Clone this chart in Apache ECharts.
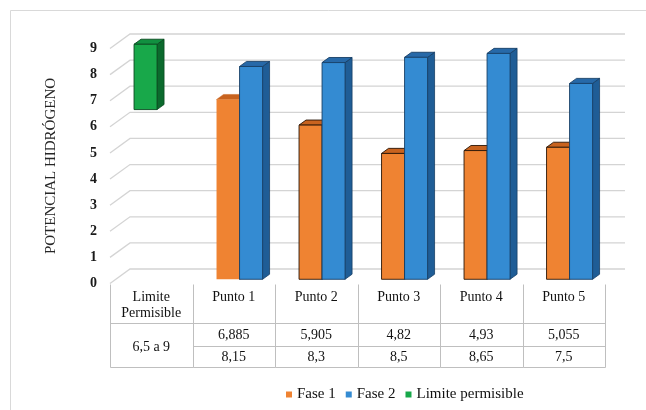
<!DOCTYPE html>
<html>
<head>
<meta charset="utf-8">
<script src="https://cdn.jsdelivr.net/npm/echarts@6/dist/echarts.min.js"></script>
<style>
  html, body { margin: 0; padding: 0; background: #ffffff; }
  #chart { width: 646px; height: 410px; }
</style>
</head>
<body>
<div id="chart"></div>
<script>
// pH por punto de muestreo
const categories = ['Limite\nPermisible', 'Punto 1', 'Punto 2', 'Punto 3', 'Punto 4', 'Punto 5'];
const fase1 = [null, 6.885, 5.905, 4.82, 4.93, 5.055];
const fase2 = [null, 8.15, 8.3, 8.5, 8.65, 7.5];
const limiteMin = 6.5;
const limiteMax = 9;
const yTicks = [0, 1, 2, 3, 4, 5, 6, 7, 8, 9];
const seriesNames = ['Fase 1', 'Fase 2', 'Limite permisible'];
const axisTitle = 'POTENCIAL HIDRÓGENO';

// oblique projection of the 3D box
const DEPTH = [20, -14.5];   // from the front edge of the floor to the back wall
const BAR_PLANE = 0.29;      // depth of the column front faces (fraction of DEPTH)
const BAR_DEPTH = 0.35;      // thickness of a column (fraction of DEPTH)
const BAR_FRAC = 0.279;      // column width relative to the category band
const FONT = 'Liberation Serif';

const fmt = v => String(v).replace('.', ',');

const palette = {
  fase1: { front: '#EF8332', top: '#C8631F', side: '#B4561A', stroke: '#2a1608' },
  fase2: { front: '#348BD2', top: '#2769A8', side: '#1F5D96', stroke: '#173f66' },
  limite: { front: '#18A84A', top: '#119040', side: '#0B6A2D', stroke: '#0a4a20' }
};

// a column as front, top and side faces; slot -1 = left of band centre, 0 = right
function column(slot, col, lowIndex, outlineTest) {
  return function (params, api) {
    const v = api.value(1);
    if (v == null || isNaN(v)) return;
    const i = api.value(0);
    const lo = lowIndex != null ? api.value(lowIndex) : 0;
    const top = api.coord([i, v]);
    const bot = api.coord([i, lo]);
    const w = api.size([1, 0])[0] * BAR_FRAC;
    const ox = DEPTH[0] * BAR_PLANE, oy = DEPTH[1] * BAR_PLANE;
    const dx = DEPTH[0] * BAR_DEPTH, dy = DEPTH[1] * BAR_DEPTH;
    const x0 = top[0] + ox + slot * w;
    const x1 = x0 + w;
    const yt = top[1] + oy, yb = bot[1] + oy;
    const outline = outlineTest ? outlineTest(params.dataIndex) : true;
    const stroke = outline ? col.stroke : null;
    const lw = outline ? 0.9 : 0;
    return {
      type: 'group',
      children: [
        {
          type: 'polygon',
          shape: { points: [[x1, yt], [x1 + dx, yt + dy], [x1 + dx, yb + dy], [x1, yb]] },
          style: { fill: col.side, stroke: col.stroke, lineWidth: 0.8 }
        },
        {
          type: 'polygon',
          shape: { points: [[x0, yt], [x1, yt], [x1 + dx, yt + dy], [x0 + dx, yt + dy]] },
          style: { fill: col.top, stroke: stroke || col.top, lineWidth: outline ? 0.9 : 0.5 }
        },
        {
          type: 'rect',
          shape: { x: x0, y: yt, width: w, height: yb - yt },
          style: { fill: col.front, stroke: stroke, lineWidth: lw }
        }
      ]
    };
  };
}

// back wall gridlines with their slanted side-wall segments
function walls(params, api) {
  const v = api.value(1);
  const half = api.size([1, 0])[0] / 2;
  const pL = api.coord([0, v]);
  const pR = api.coord([categories.length - 1, v]);
  const xl = pL[0] - half, xr = pR[0] + half, y = pL[1];
  return {
    type: 'polyline',
    shape: { points: [[xl, y], [xl + DEPTH[0], y + DEPTH[1]], [xr + DEPTH[0], y + DEPTH[1]]] },
    style: { stroke: '#d4d4d4', lineWidth: 1.3, fill: null }
  };
}

// data table under the floor
const ROWS = [0.5, 39.5, 62.5, 83.5];
function tableColumn(params, api) {
  const i = api.value(0);
  const c = api.coord([i, 0]);
  const half = api.size([1, 0])[0] / 2;
  const xl = Math.round(c[0] - half) + 0.5, xr = Math.round(c[0] + half) + 0.5;
  const y = r => Math.round(c[1] + ROWS[r]) + 0.5;
  const line = (x1, y1, x2, y2) => ({
    type: 'line', shape: { x1, y1, x2, y2 },
    style: { stroke: '#bfbfbf', lineWidth: 1 }
  });
  const text = (t, x, yy) => ({
    type: 'text',
    style: {
      text: t, x, y: yy, align: 'center', verticalAlign: 'middle',
      fontFamily: FONT, fontSize: 14, fill: '#111'
    }
  });
  const kids = [
    line(xl, y(0), xl, y(3)),
    line(xl, y(1), xr, y(1)),
    line(xl, y(3), xr, y(3))
  ];
  if (i === categories.length - 1) kids.push(line(xr, y(0), xr, y(3)));
  if (i === 0) {
    kids.push(text(fmt(limiteMin) + ' a ' + fmt(limiteMax), c[0], (y(1) + y(3)) / 2 + 2));
  } else {
    kids.push(line(xl, y(2), xr, y(2)));
    kids.push(text(fmt(fase1[i]), c[0], (y(1) + y(2)) / 2 + 0.5));
    kids.push(text(fmt(fase2[i]), c[0], (y(2) + y(3)) / 2 + 0.5));
  }
  return { type: 'group', children: kids };
}

const chart = echarts.init(document.getElementById('chart'), null, { renderer: 'canvas' });

chart.setOption({
  backgroundColor: '#ffffff',
  animation: false,
  textStyle: { fontFamily: FONT },
  graphic: [{
    type: 'rect', silent: true, z: -10,
    shape: { x: 10.5, y: 10.5, width: 700, height: 500 },
    style: { fill: null, stroke: '#d9d9d9', lineWidth: 1 }
  }],
  grid: { left: 110, right: 41, top: 48.5, bottom: 126.5 },
  legend: {
    data: seriesNames,
    left: 281,
    top: 382,
    icon: 'rect',
    itemWidth: 6,
    itemHeight: 6,
    itemGap: 10,
    textStyle: { fontFamily: FONT, fontSize: 15, color: '#111' }
  },
  xAxis: {
    type: 'category',
    data: categories,
    axisLine: { show: false },
    axisTick: { show: false },
    splitLine: { show: false },
    axisLabel: {
      interval: 0, margin: 6, fontFamily: FONT, fontSize: 14, lineHeight: 16, color: '#111'
    }
  },
  yAxis: {
    type: 'value',
    min: 0, max: 9, interval: 1,
    name: axisTitle,
    nameLocation: 'middle',
    nameRotate: 90,
    nameGap: 51,
    nameTextStyle: { fontFamily: FONT, fontSize: 15, color: '#262626' },
    axisLine: { show: false },
    axisTick: { show: false },
    splitLine: { show: false },
    axisLabel: { margin: 13, fontFamily: FONT, fontSize: 14, fontWeight: 'bold', color: '#1a1a1a' }
  },
  series: [
    {
      type: 'custom', name: 'walls', silent: true, clip: false, z: 1,
      data: yTicks.map(v => [0, v]),
      renderItem: walls
    },
    {
      type: 'custom', name: 'tabla', silent: true, clip: false, z: 1,
      data: categories.map((c, i) => [i, 0]),
      renderItem: tableColumn
    },
    {
      type: 'custom', name: seriesNames[0], clip: false, z: 3,
      itemStyle: { color: palette.fase1.front },
      data: fase1.map((v, i) => [i, v]),
      renderItem: column(-1, palette.fase1, null, idx => idx !== 1)
    },
    {
      type: 'custom', name: seriesNames[1], clip: false, z: 3,
      itemStyle: { color: palette.fase2.front },
      data: fase2.map((v, i) => [i, v]),
      renderItem: column(0, palette.fase2, null)
    },
    {
      type: 'custom', name: seriesNames[2], clip: false, z: 3,
      itemStyle: { color: palette.limite.front },
      data: [[0, limiteMax, limiteMin]],
      encode: { x: 0, y: 1 },
      renderItem: column(-1, palette.limite, 2)
    }
  ]
});
</script>
</body>
</html>
